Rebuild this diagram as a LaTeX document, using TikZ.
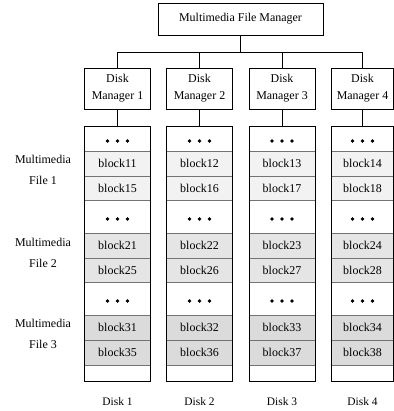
\documentclass[tikz,border=0pt]{standalone}
\usepackage{fontspec}
\setmainfont{Liberation Serif}
\begin{document}
\begin{tikzpicture}[x=1bp,y=-1bp,
  txt/.style={font=\fontsize{12}{17}\selectfont},
  box/.style={draw=black, line width=0.8bp, inner sep=0pt, align=center, txt},
  blk/.style={draw=black!55, line width=0.8bp, inner sep=0pt, txt},
  col/.style={draw=black, line width=0.8bp, inner sep=0pt, minimum height=255bp},
  lab/.style={align=center, font=\fontsize{12}{21}\selectfont},
  disk/.style={font=\fontsize{11.5}{14}\selectfont},
  wire/.style={draw=black, line width=0.8bp}]
\useasboundingbox (0,0) rectangle (394,411);
\node[box, minimum width=165bp, minimum height=32bp] (top) at (240.5,19) {Multimedia File Manager};
\coordinate (bus) at (240.5,52);
\foreach \c/\x/\w in {1/117.5/66, 2/199.5/66, 3/282/66, 4/362.5/62}{
  \node[box, minimum width=\w bp, minimum height=41bp] (m\c) at (\x,88.5) {Disk\\Manager \c};
  \pgfmathtruncatemacro{\d}{\c+4}
  \node[blk, fill=black!5, minimum width=\w bp, minimum height=25bp] (b1\c) at (\x,163.5) {block1\c};
  \node[blk, fill=black!5, minimum width=\w bp, minimum height=24bp] (b1\d) at (\x,188) {block1\d};
  \node[blk, fill=black!10, minimum width=\w bp, minimum height=25bp] (b2\c) at (\x,245.5) {block2\c};
  \node[blk, fill=black!10, minimum width=\w bp, minimum height=24bp] (b2\d) at (\x,270) {block2\d};
  \node[blk, fill=black!14, minimum width=\w bp, minimum height=25bp] (b3\c) at (\x,327.5) {block3\c};
  \node[blk, fill=black!14, minimum width=\w bp, minimum height=25bp] (b3\d) at (\x,352.5) {block3\d};
  \node[col, minimum width=\w bp] (c\c) at (\x,253.5) {};
  \foreach \yy in {141,219,301}{
    \foreach \dx in {-10,0,10}{
      \fill (\x+\dx,\yy) circle (1.9bp);
    }
  }
  \draw[wire] (m\c.south) -- (c\c.north);
  \node[disk] (d\c) at (\x,402) {Disk \c};
}
\draw[wire] (top.south) -- (bus);
\draw[wire] (m1.north) -- (m1.north |- bus) -- (m4.north |- bus) -- (m4.north);
\draw[wire] (m2.north) -- (m2.north |- bus);
\draw[wire] (m3.north) -- (m3.north |- bus);
\node[lab] (f1) at (43,170) {Multimedia\\File 1};
\node[lab] (f2) at (43,253) {Multimedia\\File 2};
\node[lab] (f3) at (43,334) {Multimedia\\File 3};
\end{tikzpicture}
\end{document}
